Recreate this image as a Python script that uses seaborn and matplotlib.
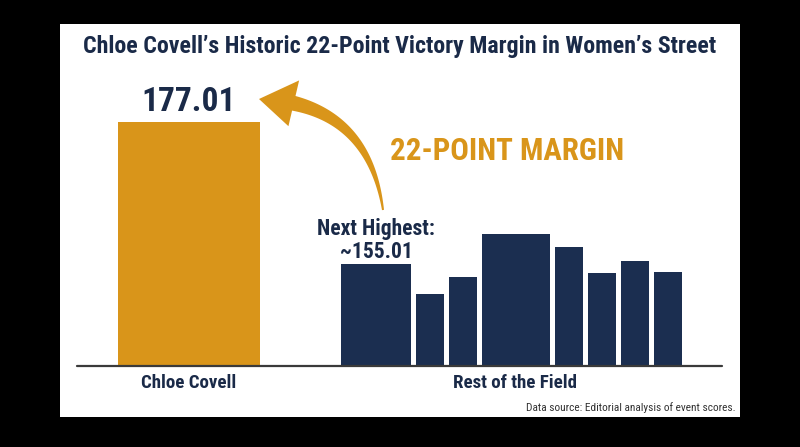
import matplotlib
matplotlib.use("Agg")
import matplotlib.pyplot as plt
from matplotlib import font_manager
from matplotlib.patches import Rectangle, Polygon
import numpy as np
import pandas as pd
import seaborn as sns

# values
title = "Chloe Covell\u2019s Historic 22-Point Victory Margin in Women\u2019s Street"
winner_name = "Chloe Covell"
winner_score = 177.01
field_label = "Rest of the Field"
field_scores = [155.01, 150.5, 153.0, 159.7, 157.7, 153.6, 155.5, 153.9]
margin_label = "22-POINT MARGIN"
source_note = "Data source: Editorial analysis of event scores."

GOLD = "#D9951A"
NAVY = "#1B2E50"
TEXT_NAVY = "#1A2A48"

# layout (pixels of the 800x447 canvas)
W, H = 800, 447
AXIS_FLOOR = 139.32
winner_x = 189
winner_w = 142
field_widths = [70, 28, 28, 68, 28, 28, 28, 28]
field_gap = 5
field_start = 341


def px(x, y):
    return (x / W, 1 - y / H)


def pick_font():
    names = {f.name for f in font_manager.fontManager.ttflist}
    for name in ["Roboto Condensed", "Liberation Sans Narrow", "DejaVu Sans Condensed", "Roboto"]:
        if name in names:
            return name
    return "DejaVu Sans"


def tapered_arrow(tail, tip, rad=0.42, w_tail=2.0, w_head=15.0, head_len=35.0, head_w=47.0):
    # quadratic curve like arc3, built in y-up pixel space
    p0 = np.array([tail[0], H - tail[1]], float)
    p2 = np.array([tip[0], H - tip[1]], float)
    mid = (p0 + p2) / 2
    d = p2 - p0
    c = mid + rad * np.array([d[1], -d[0]])
    t = np.linspace(0, 1, 400)[:, None]
    pts = (1 - t) ** 2 * p0 + 2 * (1 - t) * t * c + t ** 2 * p2
    dist_to_tip = np.hypot(*(pts - p2).T)
    k = np.argmin(np.abs(dist_to_tip - head_len))
    body = pts[:k + 1]
    tang = np.gradient(body, axis=0)
    tang /= np.hypot(*tang.T)[:, None]
    norm = np.column_stack([-tang[:, 1], tang[:, 0]])
    widths = np.linspace(w_tail, w_head, len(body))[:, None] / 2
    left = body + norm * widths
    right = body - norm * widths
    base = body[-1]
    hn = norm[-1] * head_w / 2
    outline = np.vstack([left, base + hn, p2, base - hn, right[::-1]])
    return np.column_stack([outline[:, 0] / W, outline[:, 1] / H])


sns.set_theme(style="white")
FONT = pick_font()
plt.rcParams["font.family"] = [FONT, "DejaVu Sans"]

fig = plt.figure(figsize=(W / 100, H / 100), dpi=100, facecolor="black")
fig.add_artist(Rectangle(px(60, 417), 680 / W, 393 / H, transform=fig.transFigure,
                         facecolor="white", edgecolor="none", zorder=0))

ax = fig.add_axes([77 / W, 81 / H, 645 / W, 276.6 / H])
ax.set_facecolor("none")

edges = field_start + np.concatenate([[0], np.cumsum(np.array(field_widths[:-1]) + field_gap)])
field_x = edges + np.array(field_widths) / 2

# winner bar
n0 = len(ax.patches)
sns.barplot(x=[winner_x], y=[winner_score], native_scale=True, color=GOLD,
            saturation=1, errorbar=None, linewidth=0, ax=ax)
for p in ax.patches[n0:]:
    p.set_x(winner_x - winner_w / 2)
    p.set_width(winner_w)

# rest of the field
df_field = pd.DataFrame({"x": field_x, "score": field_scores})
n0 = len(ax.patches)
sns.barplot(data=df_field, x="x", y="score", native_scale=True, color=NAVY,
            saturation=1, errorbar=None, linewidth=0, ax=ax)
for p, cx, w in zip(ax.patches[n0:], field_x, field_widths):
    p.set_x(cx - w / 2)
    p.set_width(w)

ax.set_xlim(77, 722)
ax.set_ylim(AXIS_FLOOR, 182)
ax.axis("off")
ax.axhline(AXIS_FLOOR, color="#3a3a3a", lw=1.6, clip_on=False, zorder=3)

# labels
fig.text(*px(400, 47), title, ha="center", va="center", fontsize=17.2,
         fontweight="bold", color=TEXT_NAVY)

ax.annotate(f"{winner_score:.2f}", xy=(winner_x, winner_score), xytext=(0, 14),
            textcoords="offset points", ha="center", va="center", fontsize=24,
            fontweight="bold", color=TEXT_NAVY, annotation_clip=False)

ax.annotate(f"Next Highest:\n~{field_scores[0]:.2f}", xy=(field_x[0], field_scores[0]),
            xytext=(0, 0.8), textcoords="offset points", ha="center", va="bottom",
            fontsize=15.5, fontweight="bold", color=TEXT_NAVY, linespacing=1.05,
            annotation_clip=False)

field_center = (edges[0] + edges[-1] + field_widths[-1]) / 2 + 3
for label, cx in [(winner_name, winner_x), (field_label, field_center)]:
    ax.annotate(label, xy=(cx, AXIS_FLOOR), xytext=(0, -12.5), textcoords="offset points",
                ha="center", va="center", fontsize=13.6, fontweight="bold",
                color=TEXT_NAVY, annotation_clip=False)

fig.text(*px(390, 150.5), margin_label, ha="left", va="center", fontsize=22.2,
         fontweight="bold", color=GOLD)

fig.text(*px(736, 408), source_note, ha="right", va="center", fontsize=8.2, color="#333333")

# curved, tapering arrow from the margin note up to the winning score
fig.add_artist(Polygon(tapered_arrow((383, 210), (259, 99)), closed=True,
                       transform=fig.transFigure, facecolor=GOLD, edgecolor="none", zorder=4))

fig.savefig("out.png", dpi=100, facecolor="black")
